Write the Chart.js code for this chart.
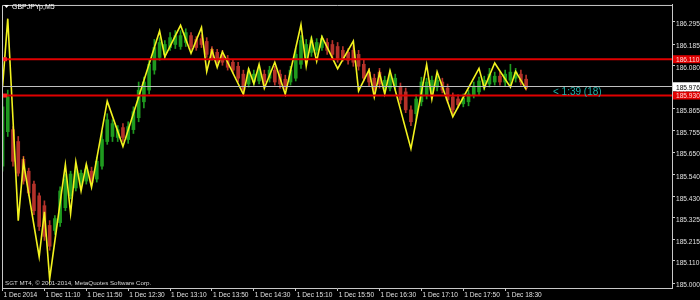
<!DOCTYPE html>
<html>
<head>
<meta charset="utf-8">
<script src="https://cdn.jsdelivr.net/npm/chart.js@4.4.0/dist/chart.umd.min.js"></script>
<style>
  html, body { margin: 0; padding: 0; background: #000; }
  canvas { display: block; }
</style>
</head>
<body>
<canvas id="chart" width="700" height="300"></canvas>
<script>
// GBPJPYp M5, 1 Dec 2014 from 10:30, one bar every 5 minutes
const openPrices = [
  185.580, 185.751, 185.761, 185.702, 185.614, 185.555, 185.491, 185.433, 185.384, 185.286,
  185.261, 185.300, 185.374, 185.433, 185.472, 185.491, 185.506, 185.555, 185.516, 185.580,
  185.702, 185.727, 185.722, 185.771, 185.712, 185.761, 185.820, 185.899, 185.957, 186.056,
  186.119, 186.134, 186.168, 186.183, 186.173, 186.193, 186.227, 186.208, 186.212, 186.198,
  186.159, 186.144, 186.134, 186.114, 186.095, 186.075, 186.036, 185.987, 185.997, 186.002,
  186.036, 186.016, 186.056, 186.036, 186.011, 185.997, 186.016, 186.085, 186.119, 186.144,
  186.154, 186.168, 186.193, 186.183, 186.173, 186.154, 186.144, 186.154, 186.134, 186.085,
  186.046, 186.016, 186.046, 185.967, 185.967, 185.977, 185.972, 185.948, 185.859, 185.840,
  185.899, 185.933, 185.948, 185.972, 185.997, 185.967, 185.923, 185.913, 185.889, 185.899,
  185.933, 185.948, 185.972, 185.987, 185.997, 186.026, 185.997, 186.006, 186.016, 186.036,
  186.011
];
const highPrices = [
  185.923, 185.957, 185.776, 185.727, 185.629, 185.570, 185.506, 185.447, 185.408, 185.310,
  185.335, 185.477, 185.541, 185.555, 185.575, 185.560, 185.585, 185.575, 185.624, 185.751,
  185.840, 185.810, 185.781, 185.791, 185.800, 185.874, 185.997, 186.021, 186.105, 186.208,
  186.217, 186.203, 186.242, 186.252, 186.252, 186.261, 186.242, 186.222, 186.232, 186.217,
  186.173, 186.159, 186.154, 186.129, 186.109, 186.095, 186.056, 186.065, 186.056, 186.075,
  186.056, 186.075, 186.075, 186.056, 186.031, 186.075, 186.163, 186.227, 186.208, 186.222,
  186.212, 186.227, 186.212, 186.203, 186.193, 186.173, 186.163, 186.178, 186.154, 186.105,
  186.065, 186.036, 186.065, 186.026, 186.056, 186.036, 185.992, 185.967, 185.879, 185.933,
  186.021, 186.016, 186.026, 186.026, 186.016, 185.987, 185.943, 185.933, 185.938, 185.957,
  185.997, 186.021, 186.026, 186.065, 186.046, 186.046, 186.056, 186.085, 186.065, 186.056,
  186.031
];
const lowPrices = [
  185.555, 185.727, 185.580, 185.531, 185.491, 185.433, 185.340, 185.261, 185.212, 185.163,
  185.241, 185.281, 185.359, 185.418, 185.457, 185.477, 185.491, 185.482, 185.501, 185.565,
  185.688, 185.702, 185.702, 185.702, 185.693, 185.742, 185.800, 185.869, 185.938, 186.036,
  186.105, 186.114, 186.154, 186.163, 186.159, 186.173, 186.159, 186.154, 186.168, 186.119,
  186.105, 186.090, 186.080, 186.056, 186.041, 185.997, 185.938, 185.972, 185.982, 185.987,
  185.977, 185.997, 185.982, 185.967, 185.957, 185.982, 186.002, 186.065, 186.105, 186.124,
  186.134, 186.154, 186.134, 186.119, 186.095, 186.100, 186.085, 186.075, 186.056, 186.002,
  185.977, 185.938, 185.967, 185.948, 185.953, 185.957, 185.889, 185.845, 185.781, 185.810,
  185.879, 185.913, 185.928, 185.953, 185.943, 185.894, 185.840, 185.869, 185.874, 185.879,
  185.918, 185.933, 185.957, 185.972, 185.982, 185.982, 185.977, 185.982, 185.997, 185.982,
  185.957
];
const closePrices = [
  185.874, 185.923, 185.604, 185.545, 185.506, 185.447, 185.359, 185.281, 185.232, 185.183,
  185.320, 185.457, 185.516, 185.541, 185.555, 185.545, 185.565, 185.496, 185.604, 185.712,
  185.810, 185.791, 185.761, 185.722, 185.776, 185.850, 185.957, 185.997, 186.085, 186.168,
  186.193, 186.183, 186.217, 186.227, 186.227, 186.242, 186.173, 186.168, 186.183, 186.134,
  186.119, 186.105, 186.095, 186.070, 186.056, 186.016, 185.957, 186.046, 186.036, 186.056,
  185.997, 186.056, 185.997, 185.987, 185.972, 186.056, 186.134, 186.203, 186.183, 186.203,
  186.193, 186.212, 186.154, 186.134, 186.114, 186.114, 186.105, 186.095, 186.075, 186.016,
  185.997, 185.957, 185.987, 186.006, 186.031, 186.016, 185.908, 185.859, 185.800, 185.913,
  185.997, 185.997, 186.006, 186.006, 185.957, 185.908, 185.859, 185.884, 185.918, 185.938,
  185.977, 186.002, 186.006, 186.036, 186.026, 185.997, 186.036, 186.046, 186.046, 185.997,
  185.967
];

// zigzag turning points (bar index, price)
const zigzagBars = [0, 1, 3, 4, 7, 8, 9, 12, 13, 14, 15, 16, 17, 20, 23, 30, 31, 34, 36, 38,
  39, 40, 41, 42, 46, 47, 48, 49, 50, 52, 54, 57, 58, 59, 60, 61, 64, 67, 68, 70,
  71, 72, 73, 74, 78, 81, 82, 83, 86, 91, 92, 94, 97, 98, 100];
const zigzagPrices = [185.972, 186.311, 185.310, 185.600, 185.131, 185.354, 185.021, 185.588, 185.345, 185.602,
  185.457, 185.590, 185.475, 185.902, 185.678, 186.250, 186.122, 186.278, 186.139, 186.267,
  186.049, 186.154, 186.070, 186.147, 185.936, 186.062, 185.989, 186.085, 185.966, 186.095,
  185.936, 186.281, 186.075, 186.213, 186.100, 186.222, 186.063, 186.200, 185.953, 186.057,
  185.923, 186.042, 185.938, 186.054, 185.667, 186.084, 185.912, 186.048, 185.825, 186.065,
  185.967, 186.091, 185.972, 186.050, 185.961];

// horizontal levels
const levelPrices = [186.110, 185.930];
const bidPrice = 185.976;

// axis ticks
const xTickBars = [0, 8, 16, 24, 32, 40, 48, 56, 64, 72, 80, 88, 96];
const xTickLabels = ['1 Dec 2014', '1 Dec 11:10', '1 Dec 11:50', '1 Dec 12:30', '1 Dec 13:10', '1 Dec 13:50',
  '1 Dec 14:30', '1 Dec 15:10', '1 Dec 15:50', '1 Dec 16:30', '1 Dec 17:10', '1 Dec 17:50', '1 Dec 18:30'];
const yTickValues = [185.000, 185.110, 185.215, 185.325, 185.430, 185.540, 185.650, 185.755,
  185.865, 185.970, 186.080, 186.185, 186.295];

const FAMILY = "'Liberation Sans', Arial, sans-serif";
const UP = '#1f9a1f';
const DOWN = '#b3322a';
const AXIS = '#c8c8c8';

Chart.defaults.font.family = FAMILY;
Chart.defaults.font.size = 6.6;

const candleColor = (ctx) => {
    const i = ctx.dataIndex;
    return closePrices[i] >= openPrices[i] ? UP : DOWN;
};

// black background, frame, level lines and texts
const mtOverlay = {
    id: 'mtOverlay',
    beforeDraw(chart) {
        const c = chart.ctx;
        c.save();
        c.fillStyle = '#000';
        c.fillRect(0, 0, chart.width, chart.height);
        c.restore();
    },
    afterDatasetsDraw(chart) {
        const c = chart.ctx;
        const a = chart.chartArea;
        const y = chart.scales.y;
        c.save();
        // bid line
        const by = Math.round(y.getPixelForValue(bidPrice)) + 0.5;
        c.strokeStyle = '#c0c0c0';
        c.lineWidth = 1;
        c.beginPath();
        c.moveTo(a.left, by);
        c.lineTo(a.right, by);
        c.stroke();
        // red levels
        levelPrices.forEach(p => {
            const ly = y.getPixelForValue(p);
            c.strokeStyle = '#e00000';
            c.lineWidth = 2;
            c.beginPath();
            c.moveTo(a.left, ly);
            c.lineTo(a.right, ly);
            c.stroke();
            c.fillStyle = '#ff2020';
            c.fillRect(a.left + 1, ly - 2, 4, 4);
        });
        // frame left/top
        c.strokeStyle = AXIS;
        c.lineWidth = 1;
        c.beginPath();
        c.moveTo(a.left + 0.5, a.bottom);
        c.lineTo(a.left + 0.5, a.top + 0.5);
        c.lineTo(a.right, a.top + 0.5);
        c.stroke();
        c.restore();
    },
    afterDraw(chart) {
        const c = chart.ctx;
        const a = chart.chartArea;
        const y = chart.scales.y;
        c.save();
        c.textBaseline = 'middle';
        c.textAlign = 'left';
        c.font = '6.6px ' + FAMILY;
        // price boxes on the axis
        levelPrices.forEach(p => {
            const ly = y.getPixelForValue(p);
            c.fillStyle = '#e00000';
            c.fillRect(a.right + 1, ly - 4, 27, 8);
            c.fillStyle = '#ffd8d8';
            c.fillText(p.toFixed(3), a.right + 4, ly + 0.5);
        });
        const by = y.getPixelForValue(bidPrice);
        c.fillStyle = '#ffffff';
        c.fillRect(a.right + 1, by - 4, 27, 9);
        c.fillStyle = '#000';
        c.fillText(bidPrice.toFixed(3), a.right + 4, by + 1.5);

        // symbol title
        c.fillStyle = '#ffffff';
        c.beginPath();
        c.moveTo(4, 5); c.lineTo(9, 5); c.lineTo(6.5, 8);
        c.closePath();
        c.fill();
        c.font = '7px ' + FAMILY;
        c.fillText('GBPJPYp,M5', 12, 7);

        // copyright
        c.fillStyle = '#d8d8d8';
        c.font = '6.2px ' + FAMILY;
        c.fillText('SGT MT4, \u00a9 2001-2014, MetaQuotes Software Corp.', 5, 283);

        // bar timer
        c.fillStyle = '#20b2aa';
        c.font = '10px ' + FAMILY;
        c.fillText('< 1:39 (18)', 553, by + 6);
        c.restore();
    }
};

new Chart(document.getElementById('chart'), {
    type: 'bar',
    data: {
        datasets: [
            {
                type: 'line',
                label: 'ZigZag',
                data: zigzagBars.map((b, i) => ({ x: b, y: zigzagPrices[i] })),
                borderColor: '#f2f21e',
                borderWidth: 1.6,
                pointRadius: 0,
                tension: 0,
                order: 0
            },
            {
                label: 'body',
                data: openPrices.map((o, i) => ({ x: i, y: [o, closePrices[i]] })),
                backgroundColor: candleColor,
                barThickness: 3,
                grouped: false,
                order: 1
            },
            {
                label: 'wick',
                data: lowPrices.map((l, i) => ({ x: i, y: [l, highPrices[i]] })),
                backgroundColor: candleColor,
                barThickness: 1,
                grouped: false,
                order: 2
            }
        ]
    },
    options: {
        responsive: false,
        animation: false,
        events: [],
        layout: { padding: { left: 2, top: 2, right: 0, bottom: 0 } },
        plugins: {
            legend: { display: false },
            tooltip: { enabled: false }
        },
        scales: {
            x: {
                type: 'linear',
                position: 'bottom',
                offset: false,
                min: -0.1,
                max: 127.86,
                afterFit: (axis) => { axis.height = 12; },
                afterBuildTicks: (axis) => { axis.ticks = xTickBars.map(v => ({ value: v })); },
                grid: { drawOnChartArea: false, drawTicks: true, tickLength: 3, color: AXIS, offset: false },
                border: { display: true, color: AXIS, width: 1 },
                ticks: {
                    color: '#e0e0e0',
                    padding: 0,
                    align: 'start',
                    labelOffset: 1,
                    maxRotation: 0,
                    autoSkip: false,
                    callback: (v) => xTickLabels[xTickBars.indexOf(v)]
                }
            },
            y: {
                type: 'linear',
                position: 'right',
                min: 184.976,
                max: 186.379,
                afterFit: (axis) => { axis.width = 28; },
                afterBuildTicks: (axis) => { axis.ticks = yTickValues.map(v => ({ value: v })); },
                grid: { drawOnChartArea: false, drawTicks: true, tickLength: 3, color: AXIS },
                border: { display: true, color: AXIS, width: 1 },
                ticks: {
                    color: '#e0e0e0',
                    padding: 1,
                    labelOffset: 2.5,
                    callback: (v) => v.toFixed(3)
                }
            }
        }
    },
    plugins: [mtOverlay]
});
</script>
</body>
</html>
